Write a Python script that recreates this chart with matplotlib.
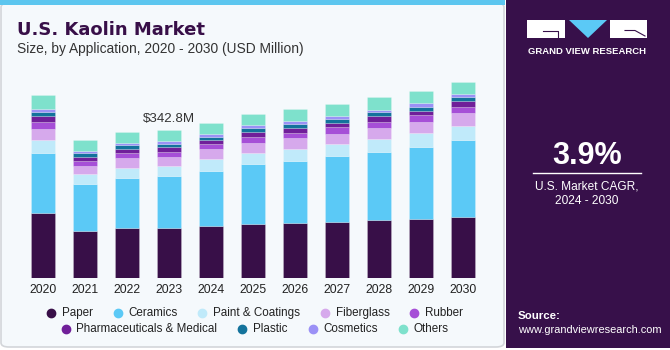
import numpy as np
import matplotlib

matplotlib.use("Agg")
import matplotlib.pyplot as plt
from matplotlib.patches import Rectangle, FancyBboxPatch, Polygon
from matplotlib.lines import Line2D
from matplotlib.colors import LinearSegmentedColormap

plt.rcParams["font.family"] = ["Liberation Sans", "DejaVu Sans"]

# ── Data (USD Million) ────────────────────────────────────────────────
years = ["2020", "2021", "2022", "2023", "2024", "2025",
         "2026", "2027", "2028", "2029", "2030"]
segments = ["Paper", "Ceramics", "Paint & Coatings", "Fiberglass", "Rubber",
            "Pharmaceuticals & Medical", "Plastic", "Cosmetics", "Others"]

paper = [150.9, 109.3, 116.2, 116.2, 120.9, 125.5, 127.8, 130.1, 134.7, 136.3, 141.0]
ceramics = [138.7, 108.6, 115.6, 119.5, 127.8, 138.7, 144.0, 151.8, 157.8, 167.1, 179.3]
paint = [31.0, 23.1, 23.8, 23.8, 26.3, 26.1, 27.7, 28.4, 30.0, 32.4, 32.4]
fiberglass = [25.4, 18.5, 21.7, 21.5, 23.1, 23.1, 24.0, 23.1, 24.7, 26.1, 29.3]
rubber = [15.3, 11.6, 11.6, 11.6, 11.6, 13.9, 12.2, 15.5, 14.6, 15.5, 14.6]
pharma = [13.2, 9.2, 9.9, 10.9, 10.6, 11.6, 12.2, 10.6, 13.2, 9.9, 12.5]
plastic = [9.9, 8.6, 8.6, 6.9, 6.9, 9.2, 7.9, 8.6, 8.6, 9.2, 9.2]
cosmetics = [6.2, 4.6, 5.3, 6.2, 6.9, 5.5, 7.6, 6.9, 6.0, 8.6, 8.3]
others = [32.4, 26.1, 25.4, 26.1, 25.4, 26.8, 27.0, 28.4, 28.7, 27.7, 27.0]

series = [paper, ceramics, paint, fiberglass, rubber, pharma, plastic, cosmetics, others]
colors = ["#380f48", "#5bc9f6", "#c0eafa", "#d6a9ec", "#a64fd7",
          "#701f99", "#13739c", "#9b91f6", "#7ee1cc"]

label_year = "2023"
label_text = "$342.8M"

W, H = 670, 350
DARK = "#380f48"


def fx(x):
    return x / W


def fy(y):
    return 1 - y / H


fig = plt.figure(figsize=(6.7, 3.5), dpi=100)
fig.patch.set_facecolor("white")

# ── Panels ────────────────────────────────────────────────────────────
fig.add_artist(FancyBboxPatch((fx(1), fy(347)), fx(503), fy(3) - fy(347),
                              boxstyle="round,pad=0,rounding_size=0.012",
                              transform=fig.transFigure, facecolor="#f5f9fc",
                              edgecolor="#d3d6da", linewidth=1.2, zorder=0))
fig.add_artist(Rectangle((0, fy(5)), fx(505), fy(0) - fy(5),
                         transform=fig.transFigure, facecolor="#5cc6ef",
                         edgecolor="none", zorder=1))
fig.add_artist(Rectangle((fx(506), fy(348)), fx(164), fy(0) - fy(348),
                         transform=fig.transFigure, facecolor="#37104a",
                         edgecolor="none", zorder=1))

# gradient footer on the right panel
gax = fig.add_axes([fx(506), fy(348), fx(164), fy(268) - fy(348)])
grad = np.linspace(0, 1, 100)[:, None]
cmap = LinearSegmentedColormap.from_list(
    "gvr", ["#37104a", "#3a1e5e", "#46508f", "#3f7fc0", "#3ea6e0"])
gax.imshow(grad, aspect="auto", cmap=cmap, extent=[0, 1, 1, 0])
for i in range(18):
    x0 = i / 17
    gax.plot([0.5 + (x0 - 0.5) * 0.6, x0 * 1.6 - 0.3], [0.2, 1.0],
             color="white", alpha=0.12, lw=0.6)
for j in range(9):
    yy = 0.2 + 0.8 * (j / 8) ** 1.4
    gax.plot([0, 1], [yy, yy + 0.02 * np.sin(j)], color="white", alpha=0.12, lw=0.6)
gax.set_xlim(0, 1)
gax.set_ylim(1, 0)
gax.axis("off")

# logo
fig.add_artist(Rectangle((fx(527), fy(38)), fx(38), fy(20) - fy(38),
                         transform=fig.transFigure, facecolor="white", edgecolor="none", zorder=3))
fig.add_artist(Line2D([fx(543), fx(558), fx(558)], [fy(30.5), fy(30.5), fy(38)],
                      transform=fig.transFigure, color="#37104a", lw=0.8, zorder=4))
fig.add_artist(Polygon([(fx(569), fy(20)), (fx(607), fy(20)), (fx(588), fy(38))],
                       closed=True, transform=fig.transFigure, facecolor="#5bc9f6",
                       edgecolor="none", zorder=3))
fig.add_artist(Rectangle((fx(610), fy(38)), fx(37), fy(20) - fy(38),
                         transform=fig.transFigure, facecolor="white", edgecolor="none", zorder=3))
fig.add_artist(Line2D([fx(625), fx(635), fx(645)], [fy(30.5), fy(30.5), fy(36)],
                      transform=fig.transFigure, color="#37104a", lw=0.8, zorder=4))
fig.text(fx(587), fy(51), "GRAND VIEW RESEARCH", color="white", fontsize=6.8,
         fontweight="bold", ha="center", va="center", zorder=4)

fig.text(fx(587), fy(156), "3.9%", color="white", fontsize=22, fontweight="bold",
         ha="center", va="center", zorder=4)
fig.add_artist(Line2D([fx(533), fx(641)], [fy(173), fy(173)],
                      transform=fig.transFigure, color="white", lw=1, zorder=4))
fig.text(fx(587), fy(186), "U.S. Market CAGR,", color="white", fontsize=8.6,
         ha="center", va="center", zorder=4)
fig.text(fx(587), fy(201), "2024 - 2030", color="white", fontsize=8.6,
         ha="center", va="center", zorder=4)
fig.text(fx(518), fy(316), "Source:", color="white", fontsize=8.2,
         fontweight="bold", ha="left", va="center", zorder=4)
fig.text(fx(518), fy(330), "www.grandviewresearch.com", color="white", fontsize=7.9,
         ha="left", va="center", zorder=4)

# titles
fig.text(fx(17), fy(35), "U.S. Kaolin Market", color=DARK, fontsize=13.0,
         fontweight="bold", family="DejaVu Sans", ha="left", va="baseline", zorder=4)
fig.text(fx(17), fy(53), "Size, by Application, 2020 - 2030 (USD Million)",
         color="#333333", fontsize=9.9, ha="left", va="baseline", zorder=4)

# ── Bars ──────────────────────────────────────────────────────────────
ax = fig.add_axes([fx(22), fy(278.3), fx(462), fy(70) - fy(278.3)])
ax.set_facecolor("none")
x = np.arange(len(years))
bottom = np.zeros(len(years))
for vals, col in zip(series, colors):
    ax.bar(x, vals, bottom=bottom, width=0.58, color=col,
           edgecolor=(1, 1, 1, 0.35), linewidth=0.4, zorder=2)
    bottom += np.array(vals)

ax.set_xlim(-0.5, len(years) - 0.5)
ax.set_ylim(0, 208.3 * 342.8 / 148.3)
ax.set_xticks(x)
ax.set_xticklabels(years, fontsize=8.8, color="#222222")
ax.tick_params(axis="x", length=0, pad=4)
ax.set_yticks([])
for s in ax.spines.values():
    s.set_visible(False)

i23 = years.index(label_year)
ax.text(i23, bottom[i23] + 12, label_text, ha="center", va="bottom",
        fontsize=9.6, color="#333333")

# ── Legend ────────────────────────────────────────────────────────────
rows = [segments[:5], segments[5:]]
row_y = [313, 329]
renderer = fig.canvas.get_renderer()
gap_m2t = 10.6
gap_t2m = 25
center = 255
for names, yrow in zip(rows, row_y):
    texts = []
    widths = []
    for n in names:
        t = fig.text(0, fy(yrow), n, fontsize=8.4, color="#222222",
                     ha="left", va="center", zorder=4)
        texts.append(t)
        widths.append(t.get_window_extent(renderer).width)
    total = sum(gap_m2t + w for w in widths) + gap_t2m * (len(names) - 1) + 4
    cur = center - total / 2 + 4
    for n, t, w in zip(names, texts, widths):
        col = colors[segments.index(n)]
        fig.add_artist(Line2D([fx(cur)], [fy(yrow)], marker="o", markersize=6,
                              color=col, linestyle="none",
                              transform=fig.transFigure, zorder=4))
        t.set_x(fx(cur + gap_m2t))
        cur += gap_m2t + w + gap_t2m

fig.savefig("out.png", dpi=100)
